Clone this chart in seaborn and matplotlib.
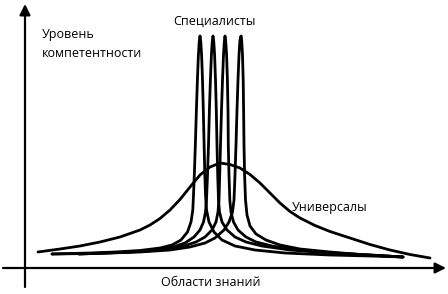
import matplotlib
matplotlib.use("Agg")
import matplotlib.pyplot as plt
import seaborn as sns
import pandas as pd

# ---- data (in picture units: x to the right, y downward) ----
spec1_x = [52, 90, 115, 140, 160, 172, 181, 187.5, 191, 192.8, 193.5, 194.5, 195.5, 196.4, 197.4, 198.4, 199.2, 200,
           200.8, 201.6, 202.5, 203.3, 204, 204.7, 205.5, 206.5, 209, 214, 222, 235, 255, 285, 330, 370, 403]
spec1_y = [254, 253, 252, 250.5, 248, 245, 240, 232, 222, 210, 195, 170, 140, 110, 80, 55, 42, 36,
           42, 55, 80, 110, 140, 170, 195, 210, 222, 232, 240, 246, 250, 253, 255, 256, 257]

spec2_x = [79, 105, 130, 155, 173, 185, 194, 200, 203.5, 205.5, 206.5, 207.5, 208.5, 209.4, 210.4, 211.4, 212.2, 213,
           213.8, 214.6, 215.5, 216.3, 217, 217.7, 218.5, 219.5, 222, 227, 235, 246, 262, 290, 330, 370, 403]
spec2_y = [254, 253, 252, 250, 247, 243, 237, 230, 222, 212, 200, 175, 145, 110, 80, 55, 42, 36,
           42, 55, 80, 110, 145, 175, 200, 212, 222, 230, 237, 242, 246, 250, 253, 255, 257]

spec3_x = [52, 90, 120, 148, 168, 184, 196, 205, 212, 216, 218, 219, 219.7, 220.5, 221.5, 222.5, 223.5, 224.3, 225,
           225.8, 226.6, 227.4, 228, 228.3, 229, 229.8, 231, 233.5, 238, 246, 256, 272, 298, 335, 370, 403]
spec3_y = [254, 253.5, 252.5, 251, 249, 246, 242, 237, 230, 222, 212, 200, 175, 145, 110, 80, 55, 42, 36,
           42, 55, 80, 110, 145, 175, 200, 212, 222, 230, 237, 242, 246, 250, 253, 255, 257]

spec4_x = [79, 110, 140, 170, 190, 205, 215, 224, 229, 232.5, 234, 235, 236, 237, 238, 239, 239.8, 240.5, 241.2,
           241.8, 242.5, 243.2, 243.6, 244, 244.6, 245.5, 247, 250, 256, 266, 280, 300, 330, 365, 403]
spec4_y = [254, 253, 252, 250, 247, 243, 238, 230, 222, 212, 200, 175, 145, 110, 80, 55, 42, 37, 36,
           42, 55, 80, 110, 145, 175, 200, 215, 226, 234, 240, 245, 249, 252, 255, 257]

univ_x = [38, 60, 80, 100, 120, 140, 150, 160, 170, 180, 190, 200, 210, 220, 230, 240, 250, 260, 270,
          280, 290, 300, 315, 330, 350, 370, 390, 410, 430]
univ_y = [252, 249, 246, 242, 237, 230, 225, 218.5, 210, 199.5, 187, 175, 167, 163, 164.5, 168, 174.5, 183, 193,
          203, 211.5, 218, 225.5, 231.5, 238, 244.5, 250, 254.5, 258]

labels = {
    "spec": "Специалисты",
    "univ": "Универсалы",
    "ylab": "Уровень\nкомпетентности",
    "xlab": "Области знаний",
}

# ---- figure ----
sns.set_theme(style="white")
plt.rcParams["font.family"] = ["Open Sans", "DejaVu Sans"]

fig = plt.figure(figsize=(4.48, 2.94), dpi=100)
ax = fig.add_axes([0, 0, 1, 1])

curves = [(spec1_x, spec1_y), (spec2_x, spec2_y), (spec3_x, spec3_y), (spec4_x, spec4_y), (univ_x, univ_y)]
for cx, cy in curves:
    df = pd.DataFrame({"x": cx, "y": cy})
    sns.lineplot(data=df, x="x", y="y", sort=False, estimator=None, color="black",
                 linewidth=2.0, ax=ax, solid_capstyle="round", solid_joinstyle="round")

ax.set_xlim(0, 448)
ax.set_ylim(294, 0)
ax.axis("off")

# axes with arrows
ax.annotate("", xy=(25, 4), xytext=(25, 287),
            arrowprops=dict(arrowstyle="-|>", lw=1.6, color="black", mutation_scale=16,
                            shrinkA=0, shrinkB=0))
ax.annotate("", xy=(446, 268), xytext=(3, 268),
            arrowprops=dict(arrowstyle="-|>", lw=1.6, color="black", mutation_scale=16,
                            shrinkA=0, shrinkB=0))

fs = 9
ax.text(215, 21, labels["spec"], ha="center", va="center", fontsize=fs, color="black")
ax.text(292, 208, labels["univ"], ha="left", va="center", fontsize=fs, color="black")
ax.text(42, 44, labels["ylab"], ha="left", va="center", fontsize=fs, color="black", linespacing=1.55)
ax.text(211, 282, labels["xlab"], ha="center", va="center", fontsize=fs, color="black")

fig.savefig("out.png", dpi=100, facecolor="white")
